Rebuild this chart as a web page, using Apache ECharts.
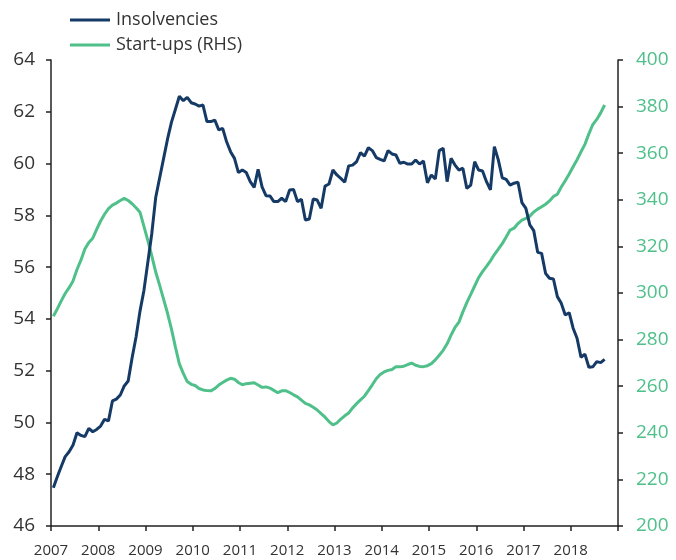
<!DOCTYPE html>
<html>
<head>
<meta charset="utf-8">
<script src="https://cdn.jsdelivr.net/npm/echarts@6/dist/echarts.min.js"></script>
<style>
  html, body { margin: 0; padding: 0; background: #fff; }
  #chart { width: 676px; height: 560px; }
</style>
</head>
<body>
<div id="chart"></div>
<script>
// monthly, starting early 2007
const startYear = 2007;
const yearTicks = [2007, 2008, 2009, 2010, 2011, 2012, 2013, 2014, 2015, 2016, 2017, 2018];

const insolvencies = [
  47.48, 47.9, 48.3, 48.68, 48.87, 49.13, 49.6, 49.5, 49.45, 49.77, 49.64, 49.73,
  49.86, 50.12, 50.06, 50.83, 50.9, 51.06, 51.41, 51.6, 52.5, 53.3, 54.3, 55.1,
  56.2, 57.3, 58.7, 59.45, 60.2, 60.95, 61.6, 62.1, 62.6, 62.43, 62.56, 62.35,
  62.3, 62.22, 62.26, 61.62, 61.62, 61.68, 61.3, 61.36, 60.84, 60.46, 60.2, 59.65,
  59.75, 59.65, 59.3, 59.08, 59.78, 59.1, 58.76, 58.75, 58.53, 58.53, 58.66, 58.53,
  58.98, 59.0, 58.53, 58.62, 57.82, 57.86, 58.63, 58.59, 58.27, 59.13, 59.21, 59.75,
  59.56, 59.43, 59.28, 59.91, 59.94, 60.07, 60.42, 60.29, 60.61, 60.5, 60.23, 60.16,
  60.1, 60.5, 60.37, 60.33, 60.01, 60.05, 59.98, 59.98, 60.14, 59.98, 60.1, 59.26,
  59.56, 59.4, 60.5, 60.59, 59.3, 60.2, 59.94, 59.75, 59.82, 59.04, 59.17, 60.07,
  59.75, 59.71, 59.3, 58.98, 60.65, 60.14, 59.45, 59.39, 59.17, 59.24, 59.28, 58.49,
  58.27, 57.63, 57.41, 56.57, 56.53, 55.76, 55.57, 55.54, 54.86, 54.6, 54.15, 54.24,
  53.64, 53.25, 52.52, 52.64, 52.13, 52.15, 52.35, 52.31, 52.44
];

const startups = [
  290.0, 293.2, 296.6, 299.8, 302.3, 305.2, 310.1, 314.1, 318.9, 321.7, 323.5, 327.3,
  330.9, 333.8, 336.2, 337.7, 338.6, 339.7, 340.6, 339.7, 338.3, 336.6, 334.7, 328.6,
  322.5, 315.9, 309.0, 303.3, 297.3, 291.3, 284.5, 276.8, 269.6, 265.5, 262.0, 260.8,
  260.3, 259.0, 258.4, 258.1, 258.0, 259.0, 260.5, 261.6, 262.6, 263.4, 263.0, 261.6,
  260.6, 261.1, 261.3, 261.5, 260.5, 259.5, 259.7, 259.2, 258.2, 257.2, 258.0, 258.1,
  257.3, 256.3, 255.4, 254.0, 252.6, 252.0, 251.0, 249.8, 248.2, 246.7, 244.8, 243.4,
  244.2, 245.9, 247.3, 248.5, 250.7, 252.5, 254.1, 255.7, 258.1, 260.6, 263.2, 265.0,
  266.1, 266.8, 267.2, 268.3, 268.3, 268.6, 269.3, 269.9, 269.0, 268.5, 268.4, 268.8,
  269.7, 271.3, 273.3, 275.4, 278.2, 281.9, 285.2, 287.5, 291.9, 295.9, 299.4, 303.0,
  306.6, 309.2, 311.4, 313.8, 316.5, 318.8, 321.2, 324.0, 327.0, 327.8, 329.8, 331.3,
  332.0, 333.0, 334.8, 336.0, 337.0, 338.1, 339.5, 341.4, 342.4, 345.5, 348.2, 351.1,
  354.2, 357.2, 360.6, 363.8, 368.3, 372.3, 374.5, 377.3, 380.7
];

const NAVY = '#163a66';
const GREEN = '#4fc08a';
const FONT = '"Open Sans"';

const toPairs = arr => arr.map((v, i) => [startYear + (i + 0.6) / 12, v]);

const chart = echarts.init(document.getElementById('chart'));
chart.setOption({
  animation: false,
  textStyle: { fontFamily: FONT },
  grid: { left: 51, right: 58, top: 60, bottom: 34, containLabel: false },
  legend: {
    orient: 'vertical',
    left: 70,
    top: 10,
    padding: 0,
    icon: 'rect',
    itemWidth: 40,
    itemHeight: 3,
    itemGap: 5,
    textStyle: { fontSize: 18, color: '#333', fontFamily: FONT, lineHeight: 20, padding: [0, 0, 0, 1] },
    data: ['Insolvencies', 'Start-ups (RHS)']
  },
  xAxis: {
    type: 'value',
    min: 2007,
    max: 2019,
    interval: 1,
    splitLine: { show: false },
    axisLine: { lineStyle: { color: '#222', width: 1.5 } },
    axisTick: { show: true, length: 5, lineStyle: { color: '#222', width: 1.5 } },
    axisLabel: {
      fontSize: 15,
      color: '#333',
      margin: 17,
      formatter: v => (yearTicks.indexOf(v) >= 0 ? String(v) : '')
    }
  },
  yAxis: [
    {
      type: 'value',
      min: 46,
      max: 64,
      interval: 2,
      splitLine: { show: false },
      axisLine: { show: true, lineStyle: { color: '#222', width: 1.5 } },
      axisTick: { show: true, length: 5, lineStyle: { color: '#222', width: 1.5 } },
      axisLabel: { fontSize: 19, color: '#333', margin: 16 }
    },
    {
      type: 'value',
      min: 200,
      max: 400,
      interval: 20,
      position: 'right',
      splitLine: { show: false },
      axisLine: { show: true, lineStyle: { color: '#222', width: 1.5 } },
      axisTick: { show: true, length: 5, lineStyle: { color: '#222', width: 1.5 } },
      axisLabel: { fontSize: 19, color: GREEN, margin: 18 }
    }
  ],
  series: [
    {
      name: 'Insolvencies',
      type: 'line',
      yAxisIndex: 0,
      data: toPairs(insolvencies),
      symbol: 'none',
      lineStyle: { color: NAVY, width: 3 },
      itemStyle: { color: NAVY },
      z: 3
    },
    {
      name: 'Start-ups (RHS)',
      type: 'line',
      yAxisIndex: 1,
      data: toPairs(startups),
      symbol: 'none',
      lineStyle: { color: GREEN, width: 3 },
      itemStyle: { color: GREEN },
      z: 2
    }
  ]
});
</script>
</body>
</html>
